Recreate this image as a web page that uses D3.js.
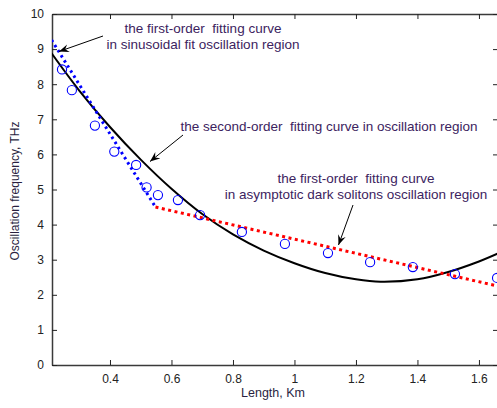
<!DOCTYPE html>
<html>
<head>
<meta charset="utf-8">
<script src="https://cdn.jsdelivr.net/npm/d3@7"></script>
<style>
  body { margin: 0; background: #fff; }
  svg text { font-family: "Liberation Sans", Arial, sans-serif; }
</style>
</head>
<body>
<div id="chart"></div>
<script>
// measured points (blue circles)
var lengthKm = [0.244, 0.276, 0.351, 0.414, 0.485, 0.519, 0.556, 0.621, 0.693, 0.829, 0.969, 1.109, 1.246, 1.385, 1.522, 1.659];
var freqTHz  = [8.42, 7.83, 6.82, 6.08, 5.70, 5.06, 4.84, 4.70, 4.27, 3.79, 3.45, 3.19, 2.93, 2.79, 2.59, 2.48];

// second-order fit
var fit2X = [0.21, 0.3, 0.4, 0.5, 0.6, 0.7, 0.8, 0.9, 1.0, 1.1, 1.2, 1.28, 1.4, 1.5, 1.6, 1.66];
var fit2Y = [8.88, 7.82, 6.78, 5.85, 5.02, 4.30, 3.72, 3.26, 2.90, 2.62, 2.44, 2.37, 2.44, 2.65, 2.95, 3.17];

// first-order fits (end points)
var fitSinX = [0.21, 0.548];
var fitSinY = [9.26, 4.50];
var fitDarkX = [0.548, 1.66];
var fitDarkY = [4.50, 2.25];

var xTicks = [0.4, 0.6, 0.8, 1.0, 1.2, 1.4, 1.6];
var yTicks = [0, 1, 2, 3, 4, 5, 6, 7, 8, 9, 10];

var W = 497, H = 408;
// plot box (window.top is reserved, hence the prefix)
var pLeft = 52, pTop = 14, pRight = 498, pBottom = 365;

var svg = d3.select("#chart").append("svg")
  .attr("width", W).attr("height", H);

var x = d3.scaleLinear().domain([0.2114, 1.662]).range([pLeft, pRight]);
var y = d3.scaleLinear().domain([0, 10]).range([pBottom, pTop]);

var defs = svg.append("defs");
defs.append("clipPath").attr("id", "plotclip")
  .append("rect").attr("x", pLeft).attr("y", pTop)
  .attr("width", pRight - pLeft).attr("height", pBottom - pTop);

// axes, ticks pointing inwards like matlab
var axisColor = "#3a3a3a";
function styleAxis(g) {
  g.select(".domain").attr("stroke", axisColor).attr("stroke-width", 1.5);
  g.selectAll(".tick line").attr("stroke", "#222");
  g.selectAll("text").attr("fill", "#222").style("font-size", "12px");
}

svg.append("g").attr("transform", "translate(0," + pBottom + ")")
  .call(d3.axisBottom(x).tickValues(xTicks).tickFormat(d3.format("~g"))
    .tickSizeInner(-5).tickSizeOuter(0).tickPadding(9))
  .call(styleAxis);
svg.append("g").attr("transform", "translate(0," + pTop + ")")
  .call(d3.axisTop(x).tickValues(xTicks).tickFormat("")
    .tickSizeInner(-5).tickSizeOuter(0))
  .call(styleAxis);
svg.append("g").attr("transform", "translate(" + pLeft + ",0)")
  .call(d3.axisLeft(y).tickValues(yTicks)
    .tickSizeInner(-5).tickSizeOuter(0).tickPadding(8))
  .call(styleAxis);
svg.append("g").attr("transform", "translate(" + pRight + ",0)")
  .call(d3.axisRight(y).tickValues(yTicks).tickFormat("")
    .tickSizeInner(-5).tickSizeOuter(0))
  .call(styleAxis);

// axis labels
svg.append("text")
  .attr("x", 273).attr("y", 397)
  .attr("text-anchor", "middle")
  .attr("fill", "#2a1f3f")
  .style("font-size", "12.5px")
  .text("Length, Km");

svg.append("text")
  .attr("transform", "translate(19,191) rotate(-90)")
  .attr("text-anchor", "middle")
  .attr("fill", "#2a1f3f")
  .style("font-size", "12px")
  .text("Oscillation frequency, THz");

// curves
var plot = svg.append("g").attr("clip-path", "url(#plotclip)");

var line = d3.line()
  .x(function(d) { return x(d[0]); })
  .y(function(d) { return y(d[1]); });

plot.append("path")
  .datum(d3.zip(fit2X, fit2Y))
  .attr("d", line.curve(d3.curveCatmullRom))
  .attr("fill", "none")
  .attr("stroke", "#000")
  .attr("stroke-width", 2);

line.curve(d3.curveLinear);

plot.append("path")
  .datum(d3.zip(fitSinX, fitSinY))
  .attr("d", line)
  .attr("fill", "none")
  .attr("stroke", "#0000ff")
  .attr("stroke-width", 3)
  .attr("stroke-dasharray", "2.5,3.5");

plot.append("path")
  .datum(d3.zip(fitDarkX, fitDarkY))
  .attr("d", line)
  .attr("fill", "none")
  .attr("stroke", "#ff0000")
  .attr("stroke-width", 3)
  .attr("stroke-dasharray", "3,3.5");

plot.selectAll("circle.pt")
  .data(d3.zip(lengthKm, freqTHz)).enter()
  .append("circle")
  .attr("class", "pt")
  .attr("cx", function(d) { return x(d[0]); })
  .attr("cy", function(d) { return y(d[1]); })
  .attr("r", 4.6)
  .attr("fill", "none")
  .attr("stroke", "#0000ff")
  .attr("stroke-width", 1.1);

// annotations
defs.append("marker")
  .attr("id", "arrowhead")
  .attr("viewBox", "-10 -5 11 10")
  .attr("refX", 0).attr("refY", 0)
  .attr("markerWidth", 11).attr("markerHeight", 10)
  .attr("markerUnits", "userSpaceOnUse")
  .attr("orient", "auto")
  .append("path")
  .attr("d", "M0,0 L-10,-4 L-6.5,0 L-10,4 Z")
  .attr("fill", "#000");

var notes = [
  { lines: ["the first-order  fitting curve", "in sinusoidal fit oscillation region"], cx: 203, y0: 32.5,
    arrow: [103, 36, 59, 51.5] },
  { lines: ["the second-order  fitting curve in oscillation region"], cx: 329, y0: 130.5,
    arrow: [183, 135, 150, 161.5] },
  { lines: ["the first-order  fitting curve", "in asymptotic dark solitons oscillation region"], cx: 356, y0: 183,
    arrow: [353, 205, 338.5, 245] }
];

notes.forEach(function(n) {
  var t = svg.append("text")
    .attr("text-anchor", "middle")
    .attr("fill", "#3c2360")
    .attr("xml:space", "preserve")
    .style("white-space", "pre")
    .style("font-size", "13.5px");
  n.lines.forEach(function(s, i) {
    t.append("tspan").attr("x", n.cx).attr("y", n.y0 + i * 16.3).text(s);
  });
  svg.append("line")
    .attr("x1", n.arrow[0]).attr("y1", n.arrow[1])
    .attr("x2", n.arrow[2]).attr("y2", n.arrow[3])
    .attr("stroke", "#000").attr("stroke-width", 1)
    .attr("marker-end", "url(#arrowhead)");
});
</script>
</body>
</html>
